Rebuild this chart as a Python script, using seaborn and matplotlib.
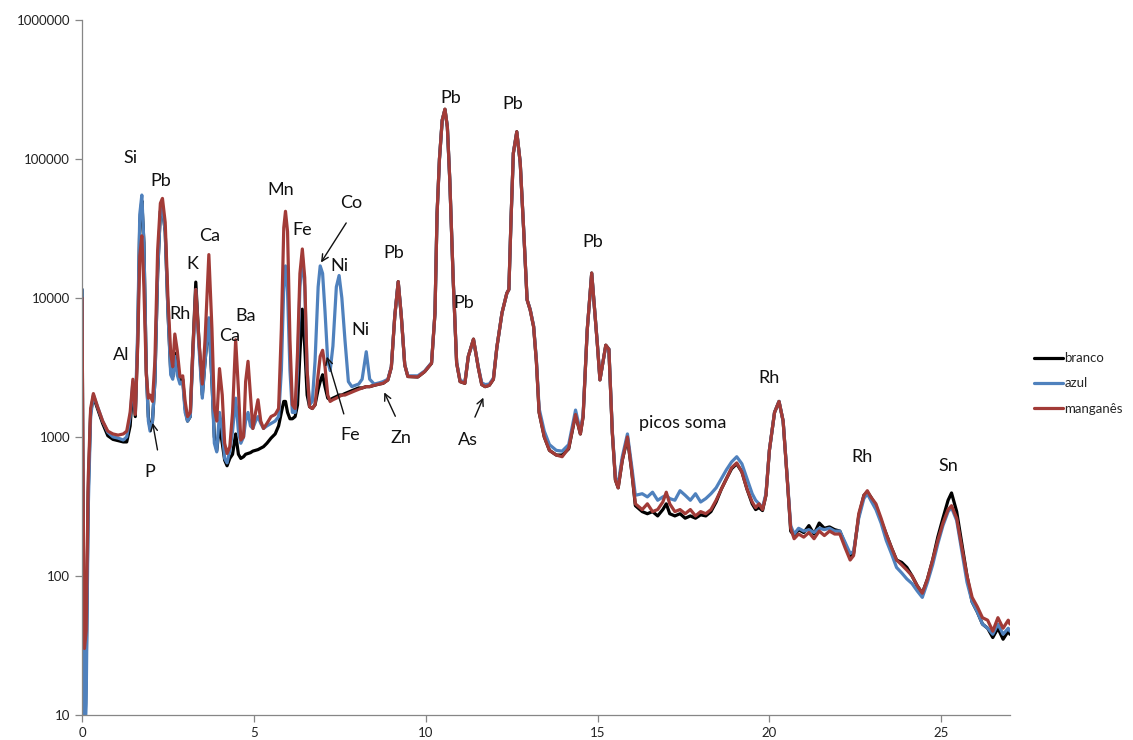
import numpy as np
import pandas as pd
import matplotlib
matplotlib.use("Agg")
import matplotlib.pyplot as plt
from matplotlib.ticker import FixedLocator, FuncFormatter
import seaborn as sns

# energy (keV) and counts, one entry per energy
energy = [
    0.00, 0.03, 0.07, 0.12, 0.18, 0.25, 0.33, 0.45, 0.60, 0.75,
    0.90, 1.05, 1.20, 1.30, 1.40, 1.48, 1.55, 1.62, 1.68, 1.74,
    1.80, 1.87, 1.93, 1.98, 2.05, 2.12, 2.20, 2.28, 2.34, 2.42,
    2.50, 2.58, 2.64, 2.70, 2.77, 2.85, 2.93, 3.00, 3.07, 3.15,
    3.22, 3.31, 3.40, 3.50, 3.58, 3.69, 3.78, 3.85, 3.92, 4.00,
    4.08, 4.15, 4.22, 4.30, 4.38, 4.47, 4.55, 4.62, 4.70, 4.76,
    4.83, 4.90, 4.97, 5.05, 5.12, 5.20, 5.28, 5.38, 5.50, 5.62,
    5.72, 5.80, 5.87, 5.92, 5.98, 6.05, 6.12, 6.20, 6.27, 6.34,
    6.41, 6.48, 6.55, 6.62, 6.70, 6.78, 6.87, 6.93, 7.00, 7.07,
    7.15, 7.22, 7.30, 7.40, 7.48, 7.56, 7.65, 7.75, 7.85, 7.95,
    8.05, 8.15, 8.27, 8.37, 8.50, 8.65, 8.76, 8.90, 9.00, 9.10,
    9.20, 9.29, 9.39, 9.48, 9.77, 9.97, 10.17, 10.27, 10.33, 10.40,
    10.48, 10.56, 10.63, 10.70, 10.80, 10.90, 11.00, 11.14, 11.24, 11.39,
    11.53, 11.63, 11.73, 11.85, 11.97, 12.07, 12.22, 12.36, 12.42, 12.48,
    12.55, 12.65, 12.75, 12.85, 12.95, 13.04, 13.14, 13.22, 13.30, 13.45,
    13.60, 13.80, 13.97, 14.16, 14.36, 14.50, 14.58, 14.70, 14.83, 15.00,
    15.07, 15.24, 15.33, 15.43, 15.52, 15.60, 15.72, 15.87, 16.00, 16.10,
    16.30, 16.45, 16.60, 16.75, 16.90, 17.00, 17.10, 17.25, 17.40, 17.55,
    17.70, 17.85, 18.00, 18.15, 18.30, 18.45, 18.60, 18.75, 18.90, 19.05,
    19.20, 19.35, 19.50, 19.60, 19.70, 19.80, 19.90, 20.00, 20.15, 20.28,
    20.40, 20.52, 20.62, 20.72, 20.85, 21.00, 21.15, 21.30, 21.45, 21.60,
    21.75, 21.90, 22.05, 22.20, 22.35, 22.45, 22.60, 22.75, 22.85, 22.95,
    23.10, 23.25, 23.40, 23.55, 23.70, 23.85, 24.00, 24.15, 24.30, 24.45,
    24.60, 24.75, 24.90, 25.05, 25.20, 25.30, 25.45, 25.60, 25.75, 25.90,
    26.05, 26.20, 26.35, 26.50, 26.65, 26.80, 26.95, 27.00,
]

branco = [
    11500, 300, 5, 20, 400, 1500, 1950, 1600, 1250, 1020,
    960, 940, 920, 920, 1200, 2300, 1400, 5000, 35000, 50000,
    25000, 3000, 1400, 1150, 1300, 2500, 15000, 42000, 45000, 30000,
    8000, 3000, 2700, 4000, 3000, 2500, 2600, 1600, 1300, 1400,
    4000, 13000, 5000, 2000, 3500, 7000, 2500, 1000, 800, 1200,
    900, 680, 620, 700, 750, 1050, 750, 700, 720, 750,
    760, 770, 790, 800, 810, 830, 850, 900, 980, 1050,
    1200, 1500, 1800, 1800, 1500, 1350, 1350, 1400, 1700, 4000,
    8300, 4500, 2000, 1650, 1600, 1700, 2200, 2500, 2800, 2300,
    1900, 1850, 1900, 1950, 2000, 2000, 2050, 2100, 2150, 2200,
    2250, 2250, 2300, 2300, 2350, 2400, 2430, 2570, 3170, 7400,
    13100, 7400, 3300, 2720, 2700, 2950, 3390, 7800, 40000, 100000,
    190000, 228000, 170000, 71000, 13500, 3400, 2500, 2430, 3800, 5050,
    3150, 2380, 2300, 2350, 2600, 4400, 7800, 10800, 11500, 35000,
    110000, 157000, 94000, 31000, 9700, 8200, 6200, 3500, 1500, 1000,
    800, 740, 740, 820, 1450, 1050, 1400, 5900, 15100, 4460,
    2570, 4570, 4270, 1070, 490, 430, 680, 980, 550, 320,
    290, 280, 290, 270, 300, 330, 280, 270, 280, 260,
    270, 260, 275, 270, 290, 340, 420, 500, 590, 640,
    560, 420, 330, 300, 310, 295, 380, 800, 1500, 1800,
    1300, 500, 210, 195, 215, 205, 230, 200, 240, 220,
    225, 215, 210, 170, 135, 145, 270, 380, 400, 370,
    320, 250, 200, 160, 130, 125, 115, 100, 85, 75,
    95, 130, 190, 260, 350, 395, 290, 170, 100, 65,
    55, 45, 42, 36, 42, 35, 40, 38,
]

azul = [
    11500, 200, 5, 12, 300, 1400, 2000, 1650, 1300, 1080,
    1000, 980, 950, 1000, 1400, 2500, 1500, 6000, 40000, 55000,
    25000, 3000, 1300, 1100, 1300, 2500, 15000, 42000, 45000, 30000,
    8000, 2800, 2600, 3800, 2800, 2400, 2500, 1500, 1300, 1400,
    3500, 11500, 4500, 1900, 3500, 7200, 2500, 900, 780, 1500,
    1100, 700, 650, 800, 1100, 1900, 1100, 900, 1000, 1300,
    1500, 1200, 1150, 1300, 1400, 1250, 1150, 1200, 1250, 1300,
    1400, 3000, 12000, 17000, 11000, 3000, 1500, 1500, 3000, 12000,
    20000, 12000, 3000, 1700, 1800, 3500, 12000, 17000, 15000, 8000,
    3500, 3000, 4500, 12000, 14500, 10000, 5000, 2500, 2300, 2350,
    2400, 2600, 4100, 2600, 2400, 2450, 2500, 2600, 3200, 7400,
    13000, 7400, 3300, 2750, 2750, 2980, 3420, 7800, 40000, 100000,
    190000, 225000, 170000, 71000, 13500, 3450, 2550, 2480, 3800, 5000,
    3200, 2450, 2380, 2400, 2650, 4400, 7800, 10800, 11500, 35000,
    110000, 155000, 94000, 31000, 9700, 8300, 6300, 3600, 1600, 1100,
    880, 800, 790, 880, 1560, 1100, 1450, 5900, 15000, 4500,
    2600, 4500, 4300, 1100, 510, 460, 720, 1050, 600, 380,
    390, 370, 400, 350, 370, 380, 360, 350, 410, 380,
    350, 390, 340, 360, 390, 430, 500, 580, 660, 720,
    640, 500, 390, 350, 330, 310, 390, 800, 1500, 1800,
    1300, 500, 230, 200, 220, 210, 215, 205, 220, 215,
    220, 210, 210, 175, 145, 150, 260, 360, 390, 350,
    300, 240, 180, 145, 115, 105, 95, 88, 78, 70,
    90, 120, 170, 230, 290, 310, 250, 150, 90, 65,
    55, 45, 42, 38, 45, 38, 42, 40,
]

manganes = [
    10000, 400, 30, 40, 500, 1600, 2050, 1650, 1300, 1100,
    1050, 1030, 1050, 1100, 1500, 2600, 1450, 4500, 20000, 28000,
    12000, 2800, 1900, 2000, 1800, 3500, 22000, 48000, 52000, 35000,
    10000, 4000, 3200, 5500, 4200, 2700, 2750, 1800, 1400, 1500,
    4000, 11500, 5000, 2400, 5000, 20500, 6000, 1600, 1300, 3100,
    2000, 900, 760, 850, 1500, 5000, 2200, 950, 1000, 2500,
    3500, 2000, 1150, 1500, 1850, 1300, 1150, 1250, 1400, 1450,
    1600, 6000, 32000, 42000, 30000, 5000, 1700, 1600, 4000, 15000,
    22500, 14000, 3000, 1650, 1600, 1700, 2800, 3800, 4200, 3200,
    2000, 1800, 1850, 1900, 1950, 2000, 2000, 2050, 2100, 2150,
    2200, 2250, 2300, 2300, 2350, 2400, 2430, 2570, 3170, 7400,
    13100, 7400, 3300, 2720, 2700, 2950, 3390, 7800, 40000, 100000,
    190000, 228000, 170000, 71000, 13500, 3400, 2500, 2430, 3800, 5050,
    3150, 2380, 2300, 2350, 2600, 4400, 7800, 10800, 11500, 35000,
    110000, 157000, 94000, 31000, 9700, 8200, 6200, 3500, 1500, 1000,
    800, 740, 720, 830, 1450, 1050, 1400, 5900, 15100, 4460,
    2570, 4570, 4270, 1070, 490, 430, 680, 1000, 550, 330,
    300, 330, 290, 300, 340, 400, 330, 290, 300, 280,
    300, 270, 290, 280, 300, 350, 420, 500, 600, 650,
    560, 420, 340, 310, 330, 300, 380, 800, 1500, 1800,
    1300, 500, 220, 185, 200, 190, 205, 185, 210, 195,
    210, 200, 200, 160, 130, 140, 280, 380, 410, 370,
    330, 260, 200, 160, 130, 120, 110, 100, 85, 75,
    95, 130, 180, 240, 300, 320, 260, 160, 100, 70,
    60, 50, 48, 40, 50, 42, 48, 45,
]

series_names = ["branco", "azul", "manganês"]
series_colors = ["#000000", "#4F81BD", "#A23B37"]

# element labels: text, energy, counts
label_text = ["Si", "Pb", "Rh", "K", "Ca", "Ca", "Ba", "Al", "Mn", "Fe", "Ni", "Ni",
              "Pb", "Pb", "Pb", "Pb", "Pb", "picos soma", "Rh", "Rh", "Sn"]
label_x = [1.40, 2.28, 2.86, 3.21, 3.71, 4.30, 4.76, 1.14, 5.79, 6.40, 7.48, 8.09,
           9.06, 10.72, 11.10, 12.54, 14.87, 17.48, 19.99, 22.70, 25.22]
label_y = [101600, 69500, 7680, 17600, 27900, 5330, 7430, 3890, 59800, 30800, 17000, 5890,
           21100, 275000, 9200, 249000, 25300, 1260, 2650, 718, 617]

# labels with arrows: text, arrow tail, arrow tip
arrow_text = ["P", "Co", "Fe", "Zn", "As"]
arrow_text_x = [1.96, 7.83, 7.80, 9.29, 11.22]
arrow_text_y = [560, 48200, 1030, 985, 950]
arrow_tail_x = [2.21, 7.73, 7.64, 9.15, 11.40]
arrow_tail_y = [770, 36000, 1400, 1350, 1330]
arrow_tip_x = [2.04, 6.91, 7.10, 8.76, 11.71]
arrow_tip_y = [1320, 17300, 3950, 2180, 2000]

df = pd.DataFrame({
    "energy": energy * 3,
    "counts": branco + azul + manganes,
    "series": [s for s, vals in zip(series_names, [branco, azul, manganes]) for _ in vals],
})

sns.set_theme(style="white")
plt.rcParams["font.family"] = ["Lato", "DejaVu Sans"]

fig = plt.figure(figsize=(11.33, 7.40), dpi=100)
ax = fig.add_axes([0.0724, 0.034, 0.819, 0.939])

sns.lineplot(data=df, x="energy", y="counts", hue="series", hue_order=series_names,
             palette=series_colors, sort=False, estimator=None, linewidth=2.3,
             ax=ax, legend=False)

ax.set_yscale("log")
ax.set_ylim(10, 1000000)
ax.set_xlim(0, 27)
ax.yaxis.set_major_locator(FixedLocator([10, 100, 1000, 10000, 100000, 1000000]))
ax.yaxis.set_minor_locator(FixedLocator([]))
ax.yaxis.set_major_formatter(FuncFormatter(lambda v, p: f"{int(round(v))}"))
ax.xaxis.set_major_locator(FixedLocator([0, 5, 10, 15, 20, 25]))
ax.set_xlabel("")
ax.set_ylabel("")

for side in ["top", "right"]:
    ax.spines[side].set_visible(False)
for side in ["left", "bottom"]:
    ax.spines[side].set_color("#868686")
    ax.spines[side].set_linewidth(0.9)
ax.tick_params(axis="both", direction="out", length=5, width=0.9, color="#868686",
               labelsize=9.5, labelcolor="#222222", left=True, bottom=True)

for t, x, y in zip(label_text, label_x, label_y):
    ax.text(x, y, t, ha="center", va="center", fontsize=13, color="#111111")

for t, tx, ty, ax_, ay_, px, py in zip(arrow_text, arrow_text_x, arrow_text_y,
                                       arrow_tail_x, arrow_tail_y, arrow_tip_x, arrow_tip_y):
    ax.text(tx, ty, t, ha="center", va="center", fontsize=13, color="#111111")
    ax.annotate("", xy=(px, py), xytext=(ax_, ay_),
                arrowprops=dict(arrowstyle="->", color="#111111", lw=1.0))

handles = [plt.Line2D([], [], color=c, lw=2.3) for c in series_colors]
fig.legend(handles, series_names, loc="center left", bbox_to_anchor=(0.902, 0.482),
           frameon=False, fontsize=9.5, handlelength=2.2, handletextpad=0.1,
           labelspacing=1.0)

fig.savefig("out.png", dpi=100)
